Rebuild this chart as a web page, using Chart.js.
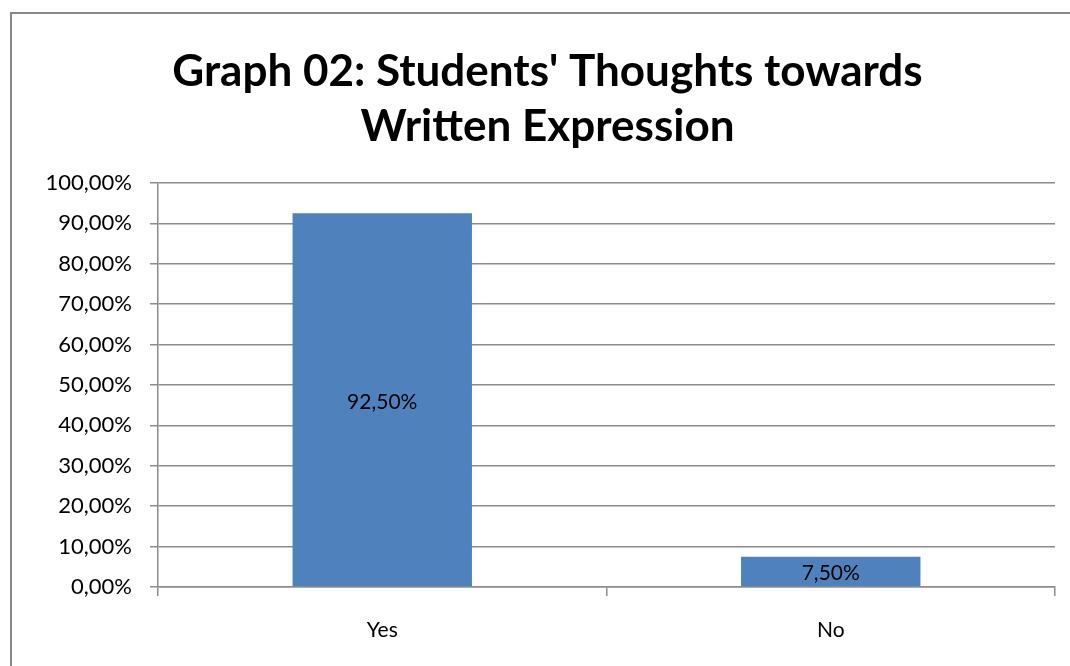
<!DOCTYPE html>
<html>
<head>
<meta charset="utf-8">
<script src="https://cdn.jsdelivr.net/npm/chart.js@4"></script>
<style>
  html, body { margin: 0; padding: 0; background: #fff; }
  #wrap { width: 1070px; height: 666px; position: relative; }
</style>
</head>
<body>
<div id="wrap"><canvas id="chart"></canvas></div>
<script>
const categories = ['Yes', 'No'];
const percentages = [92.5, 7.5];
const yTicks = [0, 10, 20, 30, 40, 50, 60, 70, 80, 90, 100];
const titleLines = ["Graph 02: Students' Thoughts towards", 'Written Expression'];

const FONT = "Lato, 'Open Sans', sans-serif";
const GRID = '#8c8c8c';

function fmtPct(v) {
  return v.toFixed(2).replace('.', ',') + '%';
}

// frame lines on the left and top of the chart
const frame = {
  id: 'frame',
  beforeDraw(chart) {
    const ctx = chart.ctx;
    ctx.save();
    ctx.fillStyle = '#fff';
    ctx.fillRect(0, 0, chart.width, chart.height);
    ctx.strokeStyle = '#888';
    ctx.lineWidth = 2;
    ctx.beginPath();
    ctx.moveTo(11, chart.height);
    ctx.lineTo(11, 13);
    ctx.lineTo(chart.width, 13);
    ctx.stroke();
    ctx.restore();
  }
};

// value written in the middle of each bar
const barLabels = {
  id: 'barLabels',
  afterDatasetsDraw(chart) {
    const ctx = chart.ctx;
    const meta = chart.getDatasetMeta(0);
    ctx.save();
    ctx.font = '21px ' + FONT;
    ctx.fillStyle = '#000';
    ctx.textAlign = 'center';
    ctx.textBaseline = 'middle';
    meta.data.forEach((bar, i) => {
      const mid = (bar.y + bar.base) / 2;
      ctx.fillText(fmtPct(percentages[i]), bar.x, mid + 2);
    });
    ctx.restore();
  }
};

new Chart(document.getElementById('chart'), {
  type: 'bar',
  data: {
    labels: categories,
    datasets: [{
      data: percentages,
      backgroundColor: '#4f81bd',
      borderWidth: 0,
      categoryPercentage: 0.4,
      barPercentage: 1.0
    }]
  },
  options: {
    responsive: true,
    maintainAspectRatio: false,
    animation: false,
    devicePixelRatio: 1,
    layout: { padding: { left: 40, right: 15, top: 0, bottom: 0 } },
    plugins: {
      legend: { display: false },
      tooltip: { enabled: false },
      title: {
        display: true,
        text: titleLines,
        color: '#000',
        font: { family: FONT, size: 44, weight: 'bold', lineHeight: 1.25 },
        padding: { top: 44, bottom: 29 }
      }
    },
    scales: {
      x: {
        grid: {
          drawOnChartArea: false,
          drawTicks: true,
          tickLength: 9,
          color: GRID,
          lineWidth: 1.5
        },
        border: { color: GRID, width: 1.5 },
        ticks: {
          color: '#000',
          font: { family: FONT, size: 21 },
          padding: 22
        },
        afterFit(scale) { scale.height = 79; }
      },
      y: {
        min: 0,
        max: 100,
        afterBuildTicks(scale) {
          scale.ticks = yTicks.map(v => ({ value: v }));
        },
        grid: {
          color: GRID,
          lineWidth: 1.5,
          tickLength: 8
        },
        border: { color: GRID, width: 1.5 },
        ticks: {
          color: '#000',
          font: { family: FONT, size: 22 },
          padding: 18,
          callback: v => fmtPct(v)
        },
        afterFit(scale) { scale.width = 118; }
      }
    }
  },
  plugins: [frame, barLabels]
});
</script>
</body>
</html>
